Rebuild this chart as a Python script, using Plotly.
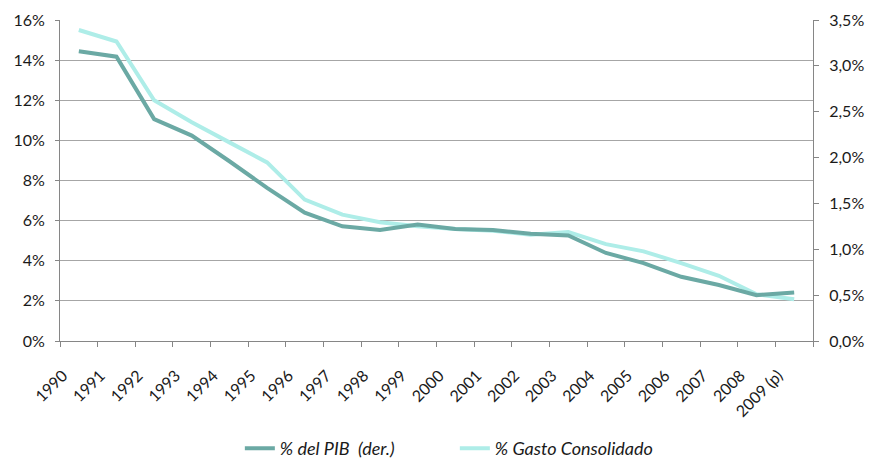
import plotly.graph_objects as go

years = ["1990", "1991", "1992", "1993", "1994", "1995", "1996", "1997", "1998", "1999",
         "2000", "2001", "2002", "2003", "2004", "2005", "2006", "2007", "2008", "2009 (p)"]
pct_pib = [3.16, 3.10, 2.42, 2.24, 1.96, 1.67, 1.40, 1.25, 1.21, 1.27,
           1.22, 1.21, 1.17, 1.15, 0.96, 0.85, 0.70, 0.61, 0.50, 0.53]
pct_gasto = [15.5, 14.93, 12.0, 10.9, 9.9, 8.9, 7.05, 6.3, 5.92, 5.72,
             5.58, 5.5, 5.3, 5.43, 4.83, 4.47, 3.88, 3.25, 2.33, 2.08]

left_ticks = [0, 2, 4, 6, 8, 10, 12, 14, 16]
right_ticks = [0, 0.5, 1.0, 1.5, 2.0, 2.5, 3.0, 3.5]
left_labels = [f"{v}%" for v in left_ticks]
right_labels = [f"{v:.1f}%".replace(".", ",") for v in right_ticks]

dark = "#6BA9A4"
light = "#AEEDE8"
font = "Lato"
txt = "#1a1a1a"

fig = go.Figure()
fig.add_trace(go.Scatter(x=years, y=pct_pib, yaxis="y2", mode="lines",
                         name="% del PIB  (der.)", line=dict(color=dark, width=4)))
fig.add_trace(go.Scatter(x=years, y=pct_gasto, mode="lines",
                         name="% Gasto Consolidado", line=dict(color=light, width=4)))

fig.update_layout(
    width=869, height=467,
    margin=dict(l=60, r=56, t=20, b=126),
    paper_bgcolor="white", plot_bgcolor="white",
    font=dict(family=font, size=16, color=txt),
    showlegend=True,
    legend=dict(orientation="h", xref="container", yref="container",
                x=0.276, xanchor="left", y=0.0, yanchor="bottom",
                font=dict(family=font, size=18, color=txt, style="italic"),
                entrywidth=170, entrywidthmode="pixels",
                tracegroupgap=0, traceorder="normal"),
    xaxis=dict(type="category", range=[-0.5, 19.5], tickangle=-45, automargin=False,
               ticks="outside", tickson="boundaries", ticklen=5, tickcolor="#868686",
               ticklabelstandoff=18, ticklabelshift=-16,
               showline=True, linecolor="#868686", linewidth=1,
               showgrid=False, tickfont=dict(size=16, color=txt)),
    yaxis=dict(range=[0, 16], tickvals=left_ticks, ticktext=left_labels, automargin=False,
               ticks="outside", ticklen=4, tickcolor="#868686", ticklabelstandoff=7,
               showline=True, linecolor="#868686", linewidth=1,
               showgrid=True, gridcolor="#A6A6A6", gridwidth=1, zeroline=False,
               tickfont=dict(size=16, color=txt)),
    yaxis2=dict(range=[0, 3.5], tickvals=right_ticks, ticktext=right_labels, automargin=False,
                overlaying="y", side="right",
                ticks="outside", ticklen=5, tickcolor="#868686", ticklabelstandoff=7,
                showline=True, linecolor="#868686", linewidth=1,
                showgrid=False, zeroline=False,
                tickfont=dict(size=16, color=txt)),
)

fig.write_html(
    "out.html", config={"displayModeBar": False},
    post_script=("document.documentElement.style.overflow='hidden';"
                 "document.body.style.margin='0';"
                 "document.body.style.height='459px';"
                 "document.body.style.overflow='hidden';"))
